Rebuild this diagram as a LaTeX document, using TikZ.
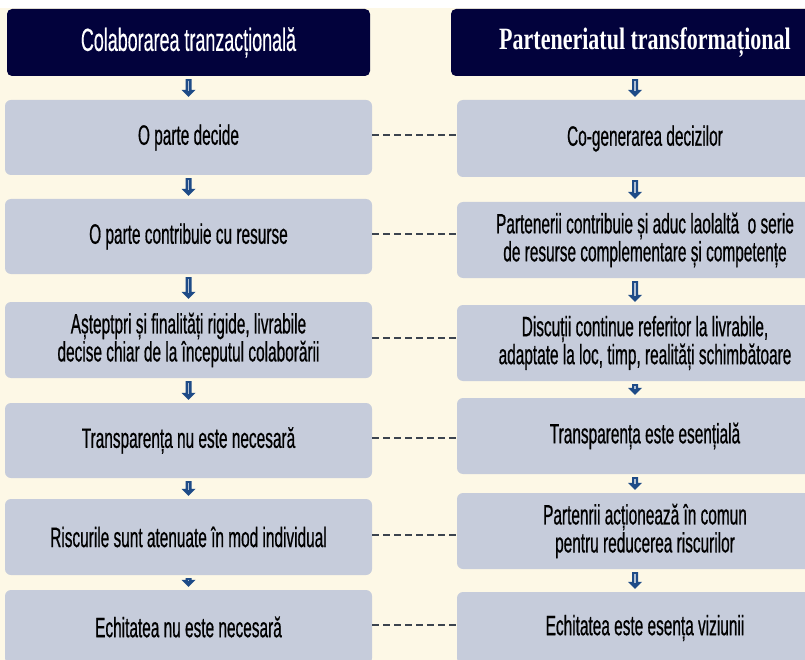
\documentclass[tikz,border=0pt]{standalone}
\usepackage{fontspec}
\newfontfamily\boxfont[FakeStretch=0.55,FakeBold=0.6]{Liberation Sans}
\newfontfamily\hdsans[FakeStretch=0.56,FakeBold=0.4]{Liberation Sans}
\newfontfamily\hdserif[FakeStretch=0.71]{Liberation Serif}
\usetikzlibrary{calc}
\definecolor{cream}{RGB}{253,248,230}
\definecolor{navy}{RGB}{2,2,60}
\definecolor{boxgray}{RGB}{198,204,219}
\definecolor{arrblue}{RGB}{30,75,135}
\definecolor{dashgray}{RGB}{60,68,78}
\tikzset{
  card/.style={fill=boxgray, rounded corners=6pt, inner sep=0pt, align=center, text=black,
    font=\boxfont\fontsize{28}{28}\selectfont},
  header/.style={fill=navy, rounded corners=5pt, inner sep=0pt, text=white, minimum height=67pt},
  link/.style={dashgray, line width=2pt, dash pattern=on 7pt off 4pt},
  arrfill/.style={fill=arrblue},
  arrshine/.style={draw=white!65!arrblue, line width=1.3pt},
}
\newcommand\downarr[3]{%
  \fill[arrfill] let \p1=($(#1 |- #2.south)+(0,-3pt)$), \p2=($(#1 |- #3.north)+(0,3pt)$) in
    (\x1-3pt,\y1) -- (\x1+3pt,\y1) -- (\x1+3pt,\y2+7pt) -- (\x1+7pt,\y2+7pt) -- (\x1,\y2)
    -- (\x1-7pt,\y2+7pt) -- (\x1-3pt,\y2+7pt) -- cycle;
  \draw[arrshine] let \p1=($(#1 |- #2.south)+(0,-4.5pt)$), \p2=($(#1 |- #3.north)+(0,3pt)$) in
    (\x1,\y1) -- (\x1,\y2+6pt);
}
\begin{document}
\begin{tikzpicture}[x=1pt,y=-1pt]
\useasboundingbox (0,0) rectangle (805,660);
\clip (0,0) rectangle (805,660);
\fill[cream] (0,0) rectangle (805,660);
\fill[white] (0,0) rectangle (805,8);

\coordinate (laxis) at (188.5,0);
\coordinate (raxis) at (635,0);

\node[header, minimum width=363pt] (H1) at (188.5,42.5)
  {\hdsans\fontsize{32}{34}\selectfont Colaborarea tranzacțională};
\node[header, minimum width=388pt] (H2) at (645,42.5)
  {\hdserif\bfseries\fontsize{31}{34}\selectfont Parteneriatul transformațional};

\node[card, minimum width=367pt, minimum height=75pt] (L1) at (188.5,137.5) {O parte decide};
\node[card, minimum width=367pt, minimum height=75pt] (L2) at (188.5,236.5) {O parte contribuie cu resurse};
\node[card, minimum width=367pt, minimum height=76pt] (L3) at (188.5,340)
  {Așteptpri și finalități rigide, livrabile\\decise chiar de la începutul colaborării};
\node[card, minimum width=367pt, minimum height=75pt] (L4) at (188.5,440.5) {Transparența nu este necesară};
\node[card, minimum width=367pt, minimum height=76pt] (L5) at (188.5,537) {Riscurile sunt atenuate în mod individual};
\node[card, minimum width=367pt, minimum height=74pt] (L6) at (188.5,627) {Echitatea nu este necesară};

\node[card, minimum width=376pt, minimum height=77pt] (R1) at (645,138.5) {Co-generarea decizilor};
\node[card, minimum width=376pt, minimum height=76pt] (R2) at (645,240)
  {Partenerii contribuie și aduc laolaltă\ \ o serie\\de resurse complementare și competențe};
\node[card, minimum width=376pt, minimum height=76pt] (R3) at (645,343)
  {Discuții continue referitor la livrabile,\\adaptate la loc, timp, realități schimbătoare};
\node[card, minimum width=376pt, minimum height=76pt] (R4) at (645,436) {Transparența este esențială};
\node[card, minimum width=376pt, minimum height=76pt] (R5) at (645,531)
  {Partenrii acționează în comun\\pentru reducerea riscurilor};
\node[card, minimum width=376pt, minimum height=72pt] (R6) at (645,628) {Echitatea este esența viziunii};

\downarr{laxis}{H1}{L1}
\downarr{laxis}{L1}{L2}
\downarr{laxis}{L2}{L3}
\downarr{laxis}{L3}{L4}
\downarr{laxis}{L4}{L5}
\downarr{laxis}{L5}{L6}
\downarr{raxis}{H2}{R1}
\downarr{raxis}{R1}{R2}
\downarr{raxis}{R2}{R3}
\downarr{raxis}{R3}{R4}
\downarr{raxis}{R4}{R5}
\downarr{raxis}{R5}{R6}

\foreach \i in {1,...,6}
  \draw[link] let \p1=(L\i.east), \p2=(R\i.west) in (\x1,\y1+2.5pt) -- (\x2,\y1+2.5pt);
\end{tikzpicture}
\end{document}
